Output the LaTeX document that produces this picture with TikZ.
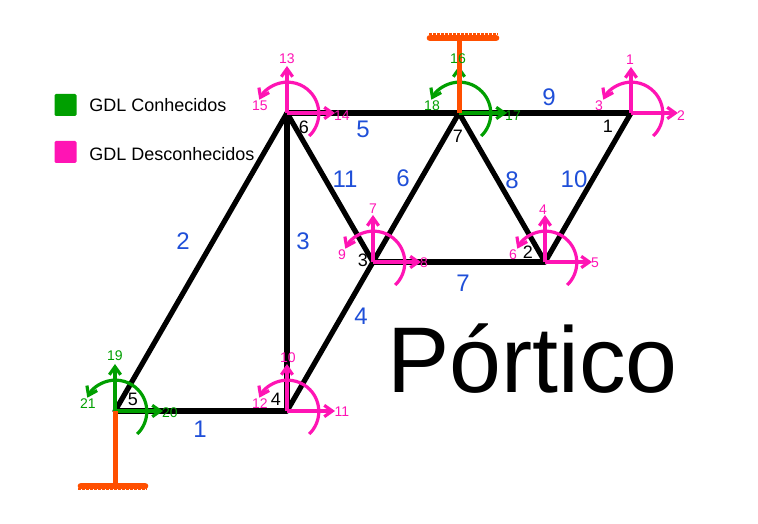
\documentclass[tikz,border=0pt]{standalone}
\usepackage{fontspec}
\setmainfont{Liberation Sans}
\usetikzlibrary{arrows.meta}
\definecolor{gdlknown}{HTML}{009F00}
\definecolor{gdlfree}{HTML}{FF14B4}
\definecolor{fixcolor}{HTML}{FF4F00}
\definecolor{barcolor}{HTML}{1F4FD8}

\begin{document}
\begin{tikzpicture}[x=.75pt,y=.75pt,
                        joint/.style={circle, fill=black, inner sep=0pt, minimum size=0pt},
                        bar/.style={line width=3.9pt, line cap=round},
                        fix/.style={line width=3.75pt, draw=fixcolor},
                        fixbase/.style={line width=5pt, draw=fixcolor, line cap=round},
                        fixhatch/.style={line width=1.5pt, draw=fixcolor, dash pattern=on 2.2pt off .8pt},
                        gdl/.style={line width=2.4pt, -{Straight Barb[length=6pt,width=8.5pt]}},
                        gdlarc/.style={gdl, start angle=-46, end angle=154, radius=23.5pt},
                        barnum/.style={text=barcolor, font=\fontsize{18}{18}\selectfont},
                        jointnum/.style={text=black, font=\fontsize{13.5}{14}\selectfont},
                        gdlnum/.style={font=\fontsize{10.5}{11}\selectfont, inner sep=0pt},
                        legendbox/.style={minimum size=16.5pt, inner sep=0pt, rounded corners=1pt}]
      \useasboundingbox (0,0) rectangle (758,524);

      \node[joint] (1) at (631,411) {};
      \node[joint] (2) at (545,262) {};
      \node[joint] (3) at (373,262) {};
      \node[joint] (4) at (287,113) {};
      \node[joint] (5) at (115,113) {};
      \node[joint] (6) at (287,411) {};
      \node[joint] (7) at (459,411) {};

      % barras
      \draw[bar] (5) -- (4);
      \draw[bar] (5) -- (6);
      \draw[bar] (4) -- (6);
      \draw[bar] (4) -- (3);
      \draw[bar] (6) -- (7);
      \draw[bar] (3) -- (7);
      \draw[bar] (3) -- (2);
      \draw[bar] (7) -- (2);
      \draw[bar] (7) -- (1);
      \draw[bar] (2) -- (1);
      \draw[bar] (6) -- (3);

      % graus de liberdade
      \coordinate (u1) at (631,457);
      \coordinate (r1) at (678,411);
      \coordinate (u2) at (545,309);
      \coordinate (r2) at (592,262);
      \coordinate (u3) at (373,309);
      \coordinate (r3) at (421,262);
      \coordinate (u4) at (287,160);
      \coordinate (r4) at (335,113);
      \coordinate (u5) at (115,160);
      \coordinate (r5) at (163,113);
      \coordinate (u6) at (287,458);
      \coordinate (r6) at (335,411);
      \coordinate (u7) at (459,458);
      \coordinate (r7) at (507,411);

      \begin{scope}[gdlfree]
          \draw[gdl] (1) -- (u1);
          \draw[gdl] (1) -- (r1);
          \draw[gdlarc] (1) ++(-46:32) arc;
          \draw[gdl] (2) -- (u2);
          \draw[gdl] (2) -- (r2);
          \draw[gdlarc] (2) ++(-46:32) arc;
          \draw[gdl] (3) -- (u3);
          \draw[gdl] (3) -- (r3);
          \draw[gdlarc] (3) ++(-46:32) arc;
          \draw[gdl] (4) -- (u4);
          \draw[gdl] (4) -- (r4);
          \draw[gdlarc] (4) ++(-46:32) arc;
          \draw[gdl] (6) -- (u6);
          \draw[gdl] (6) -- (r6);
          \draw[gdlarc] (6) ++(-46:32) arc;
      \end{scope}

      \begin{scope}[gdlknown]
          \draw[gdl] (5) -- (u5);
          \draw[gdl] (5) -- (r5);
          \draw[gdlarc] (5) ++(-46:32) arc;
          \draw[gdl] (7) -- (u7);
          \draw[gdl] (7) -- (r7);
          \draw[gdlarc] (7) ++(-46:32) arc;
      \end{scope}

      % apoios
      \coordinate (fixtop) at (459,486);
      \coordinate (fixtopa) at (430,486);
      \coordinate (fixtopb) at (496,486);
      \coordinate (hatchtopa) at (429,489.5);
      \coordinate (hatchtopb) at (498,489.5);
      \coordinate (fixbot) at (115,38);
      \coordinate (fixbota) at (81,38);
      \coordinate (fixbotb) at (145,38);
      \coordinate (hatchbota) at (78,34.5);
      \coordinate (hatchbotb) at (147,34.5);
      \draw[fix] (7) -- (fixtop);
      \draw[fixbase] (fixtopa) -- (fixtopb);
      \draw[fixhatch] (hatchtopa) -- (hatchtopb);
      \draw[fix] (5) -- (fixbot);
      \draw[fixbase] (fixbota) -- (fixbotb);
      \draw[fixhatch] (hatchbota) -- (hatchbotb);

      % numeros dos nos
      \node[jointnum] (t1) at (608,398) {1};
      \node[jointnum] (t2) at (528,272) {2};
      \node[jointnum] (t3) at (363,264) {3};
      \node[jointnum] (t4) at (276,125) {4};
      \node[jointnum] (t5) at (133,125) {5};
      \node[jointnum] (t6) at (304,397) {6};
      \node[jointnum] (t7) at (458,388) {7};

      % numeros das barras
      \node[barnum] (m1) at (200,95) {1};
      \node[barnum] (m2) at (183,283) {2};
      \node[barnum] (m3) at (303,283) {3};
      \node[barnum] (m4) at (361,208) {4};
      \node[barnum] (m5) at (363,395) {5};
      \node[barnum] (m6) at (403,346) {6};
      \node[barnum] (m7) at (463,241) {7};
      \node[barnum] (m8) at (512,344) {8};
      \node[barnum] (m9) at (549,427) {9};
      \node[barnum] (m10) at (574,345) {10};
      \node[barnum] (m11) at (345,345) {11};

      % numeros dos graus de liberdade
      \begin{scope}[text=gdlfree]
          \node[gdlnum] (d1) at (630,464) {1};
          \node[gdlnum] (d2) at (681,408) {2};
          \node[gdlnum] (d3) at (599,418) {3};
          \node[gdlnum] (d4) at (543,314) {4};
          \node[gdlnum] (d5) at (595,261) {5};
          \node[gdlnum] (d6) at (513,269) {6};
          \node[gdlnum] (d7) at (373,315) {7};
          \node[gdlnum] (d8) at (424,261) {8};
          \node[gdlnum] (d9) at (342,269) {9};
          \node[gdlnum] (d10) at (288,166) {10};
          \node[gdlnum] (d11) at (342,112) {11};
          \node[gdlnum] (d12) at (260,120) {12};
          \node[gdlnum] (d13) at (287,465) {13};
          \node[gdlnum] (d14) at (342,408) {14};
          \node[gdlnum] (d15) at (260,418) {15};
      \end{scope}
      \begin{scope}[text=gdlknown]
          \node[gdlnum] (d16) at (458,465) {16};
          \node[gdlnum] (d17) at (513,408) {17};
          \node[gdlnum] (d18) at (432,418) {18};
          \node[gdlnum] (d19) at (115,168) {19};
          \node[gdlnum] (d20) at (170,111) {20};
          \node[gdlnum] (d21) at (88,120) {21};
      \end{scope}

      % legenda
      \node[legendbox, fill=gdlknown] (known) at (65.5,419) {};
      \node[legendbox, fill=gdlfree] (unknown) at (65.5,372) {};
      \node[anchor=base west, inner sep=0pt, font=\fontsize{13.5}{14}\selectfont] (knowntxt) at (89,412) {GDL Conhecidos};
      \node[anchor=base west, inner sep=0pt, font=\fontsize{13.5}{14}\selectfont] (unknowntxt) at (89,363) {GDL Desconhecidos};

      \node[anchor=base west, inner sep=0pt, font=\fontsize{70}{72}\selectfont] (title) at (387,131) {Pórtico};
    \end{tikzpicture}
\end{document}
